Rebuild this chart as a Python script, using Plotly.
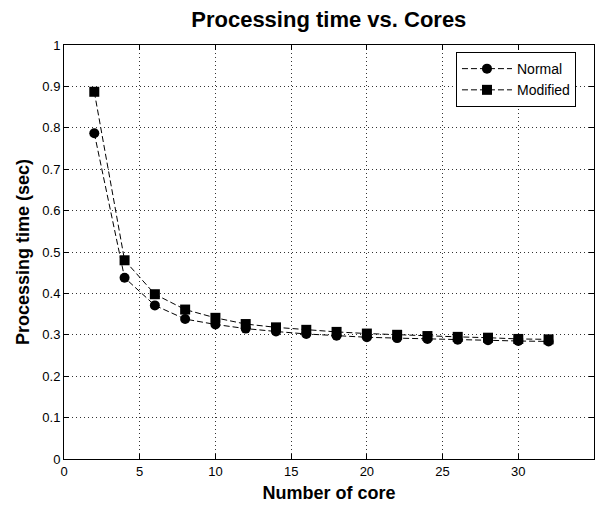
import plotly.graph_objects as go

cores = [2, 4, 6, 8, 10, 12, 14, 16, 18, 20, 22, 24, 26, 28, 30, 32]
normal = [0.787, 0.438, 0.371, 0.338, 0.325, 0.315, 0.308, 0.302, 0.298, 0.294,
          0.292, 0.290, 0.288, 0.287, 0.285, 0.284]
modified = [0.887, 0.480, 0.398, 0.361, 0.341, 0.326, 0.318, 0.312, 0.307, 0.303,
            0.300, 0.297, 0.295, 0.293, 0.290, 0.289]

x_ticks = [0, 5, 10, 15, 20, 25, 30, 35]
y_ticks = [0, 0.1, 0.2, 0.3, 0.4, 0.5, 0.6, 0.7, 0.8, 0.9, 1]
y_labels = ["0", "0.1", "0.2", "0.3", "0.4", "0.5", "0.6", "0.7", "0.8", "0.9", "1"]

fig = go.Figure()
fig.add_trace(go.Scatter(x=cores, y=normal, name="Normal", mode="lines+markers",
                         line=dict(color="black", width=1, dash="6px,3px"),
                         marker=dict(symbol="circle", size=10, color="black")))
fig.add_trace(go.Scatter(x=cores, y=modified, name="Modified", mode="lines+markers",
                         line=dict(color="black", width=1, dash="6px,3px"),
                         marker=dict(symbol="square", size=10, color="black")))

font_family = "Liberation Sans, Arial, sans-serif"
fig.update_layout(
    width=600, height=510,
    margin=dict(l=64, r=6, t=45, b=51),
    paper_bgcolor="white", plot_bgcolor="white",
    font=dict(family=font_family, color="black", size=13),
    title=dict(text="<b>Processing time vs. Cores</b>", x=0.548, xanchor="center",
               y=0.978, yanchor="top", font=dict(size=22, color="black")),
    legend=dict(x=0.966, y=0.983, xanchor="right", yanchor="top",
                bgcolor="white", bordercolor="black", borderwidth=1,
                font=dict(size=14), itemwidth=50, tracegroupgap=0),
    showlegend=True,
)
fig.update_xaxes(range=[0, 35], tickvals=x_ticks, ticks="inside", ticklen=5,
                 tickcolor="black", showline=True, linecolor="black", linewidth=1,
                 mirror="ticks", showgrid=True, gridcolor="#333333", griddash="1px,3px",
                 gridwidth=1, zeroline=False, automargin=False,
                 title=dict(text="<b>Number of core</b>", font=dict(size=18), standoff=8),
                 tickfont=dict(size=13))
fig.update_yaxes(range=[0, 1], tickvals=y_ticks, ticktext=y_labels, ticks="inside",
                 ticklen=5, tickcolor="black", showline=True, linecolor="black",
                 linewidth=1, mirror="ticks", showgrid=True, gridcolor="#333333",
                 griddash="1px,3px", gridwidth=1, zeroline=False, automargin=False,
                 title=dict(text="<b>Processing time (sec)</b>", font=dict(size=18), standoff=8),
                 tickfont=dict(size=13))

fig.write_html("out.html", config={"displayModeBar": False},
               post_script="document.body.style.margin='0';document.body.style.overflow='hidden';")
